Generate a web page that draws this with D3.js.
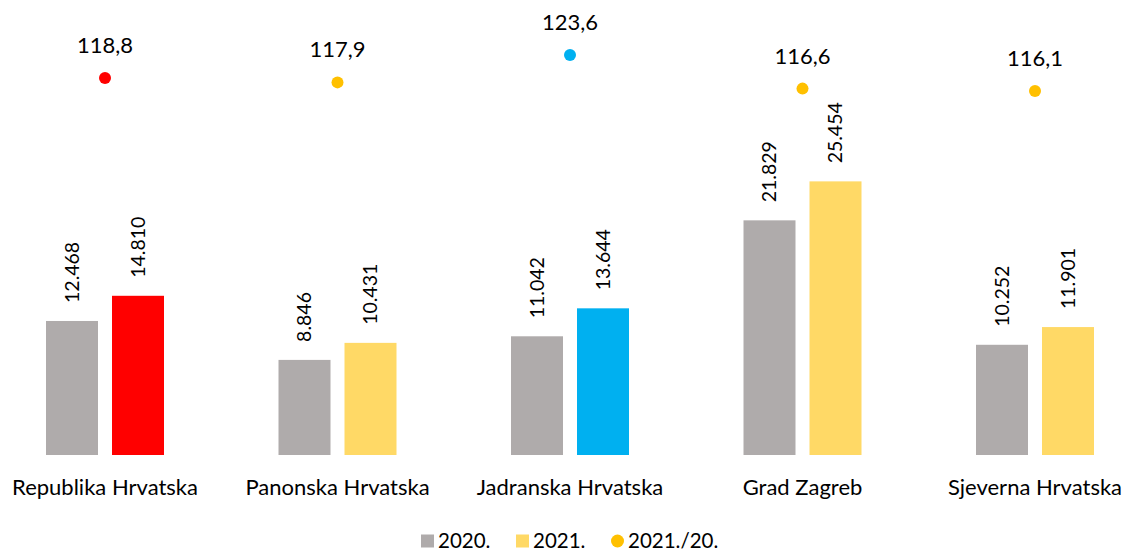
<!DOCTYPE html>
<html>
<head>
<meta charset="utf-8">
<script src="https://cdn.jsdelivr.net/npm/d3@7"></script>
<style>
  html, body { margin: 0; padding: 0; background: #fff; }
  svg { display: block; font-family: Lato, "Open Sans", "Liberation Sans", sans-serif; }
</style>
</head>
<body>
<svg width="1126" height="551"></svg>
<script>
// Daten
const categories = ["Republika Hrvatska", "Panonska Hrvatska", "Jadranska Hrvatska", "Grad Zagreb", "Sjeverna Hrvatska"];
const values2020 = [12468, 8846, 11042, 21829, 10252];
const values2021 = [14810, 10431, 13644, 25454, 11901];
const index2120 = [118.8, 117.9, 123.6, 116.6, 116.1];
const legendLabels = ["2020.", "2021.", "2021./20."];

const width = 1126;
const height = 551;

// Farben je Kategorie (2021 hervorgehoben)
const grey = "#AFABAB";
const yellow = "#FFD966";
const gold = "#FFC000";
const color2021 = ["#FF0000", yellow, "#00B0F0", yellow, yellow];
const colorDot = ["#FF0000", gold, "#00B0F0", gold, gold];

const hr = d3.formatLocale({ decimal: ",", thousands: ".", grouping: [3], currency: ["", ""] });
const fmtInt = hr.format(",d");
const fmtDec = hr.format(".1f");

const svg = d3.select("svg");

// Skalen
const x = d3.scaleBand()
    .domain(categories)
    .range([-11.25, 1151.25])
    .padding(0);

const y = d3.scaleLinear()
    .domain([0, 30000])
    .range([455, 132.5]);

const y2 = d3.scaleLinear()
    .domain([110, 125])
    .range([120.3, 48.3]);

const barW = 52;
const off = 33;

const data = categories.map((c, i) => ({
    cat: c, v20: values2020[i], v21: values2021[i], idx: index2120[i],
    c21: color2021[i], cd: colorDot[i]
}));

const g = svg.append("g");

// Balken 2020
g.selectAll(".b20").data(data).enter().append("rect")
    .attr("x", d => x(d.cat) + x.bandwidth() / 2 - off - barW / 2)
    .attr("y", d => y(d.v20))
    .attr("width", barW)
    .attr("height", d => y(0) - y(d.v20))
    .attr("fill", grey);

// Balken 2021
g.selectAll(".b21").data(data).enter().append("rect")
    .attr("x", d => x(d.cat) + x.bandwidth() / 2 + off - barW / 2)
    .attr("y", d => y(d.v21))
    .attr("width", barW)
    .attr("height", d => y(0) - y(d.v21))
    .attr("fill", d => d.c21);

// Beschriftungen (gedreht)
function barLabel(cls, key, dx) {
    g.selectAll("." + cls).data(data).enter().append("text")
        .attr("transform", d => `translate(${x(d.cat) + x.bandwidth() / 2 + dx},${y(d[key]) - 18}) rotate(-90)`)
        .attr("dy", "0.35em")
        .attr("text-anchor", "start")
        .attr("font-size", 19.5)
        .attr("fill", "#000")
        .text(d => fmtInt(d[key]));
}
barLabel("l20", "v20", -off);
barLabel("l21", "v21", off);

// Punkte
g.selectAll(".dot").data(data).enter().append("circle")
    .attr("cx", d => x(d.cat) + x.bandwidth() / 2)
    .attr("cy", d => y2(d.idx))
    .attr("r", 6)
    .attr("fill", d => d.cd);

g.selectAll(".dl").data(data).enter().append("text")
    .attr("x", d => x(d.cat) + x.bandwidth() / 2)
    .attr("y", d => y2(d.idx) - 25)
    .attr("text-anchor", "middle")
    .attr("font-size", 22)
    .attr("fill", "#000")
    .text(d => fmtDec(d.idx));

// Kategorie-Achse
const xAxis = svg.append("g")
    .attr("transform", "translate(0,455)")
    .call(d3.axisBottom(x).tickSize(0).tickPadding(24));
xAxis.select(".domain").remove();
xAxis.selectAll("text")
    .attr("font-size", 22)
    .attr("font-family", "Lato, 'Open Sans', 'Liberation Sans', sans-serif")
    .attr("fill", "#000");

// Legende
const legend = svg.append("g").attr("transform", "translate(0,541)");
const legX = [421, 516, 611];
legend.append("rect").attr("x", legX[0]).attr("y", -6.5).attr("width", 13).attr("height", 13).attr("fill", grey);
legend.append("rect").attr("x", legX[1]).attr("y", -6.5).attr("width", 13).attr("height", 13).attr("fill", yellow);
legend.append("circle").attr("cx", legX[2] + 6.5).attr("cy", 0).attr("r", 6.5).attr("fill", gold);
legend.selectAll(".lt").data(legendLabels).enter().append("text")
    .attr("x", (d, i) => legX[i] + 17)
    .attr("y", 0)
    .attr("dy", "0.35em")
    .attr("font-size", 20.5)
    .attr("fill", "#000")
    .text(d => d);
</script>
</body>
</html>
